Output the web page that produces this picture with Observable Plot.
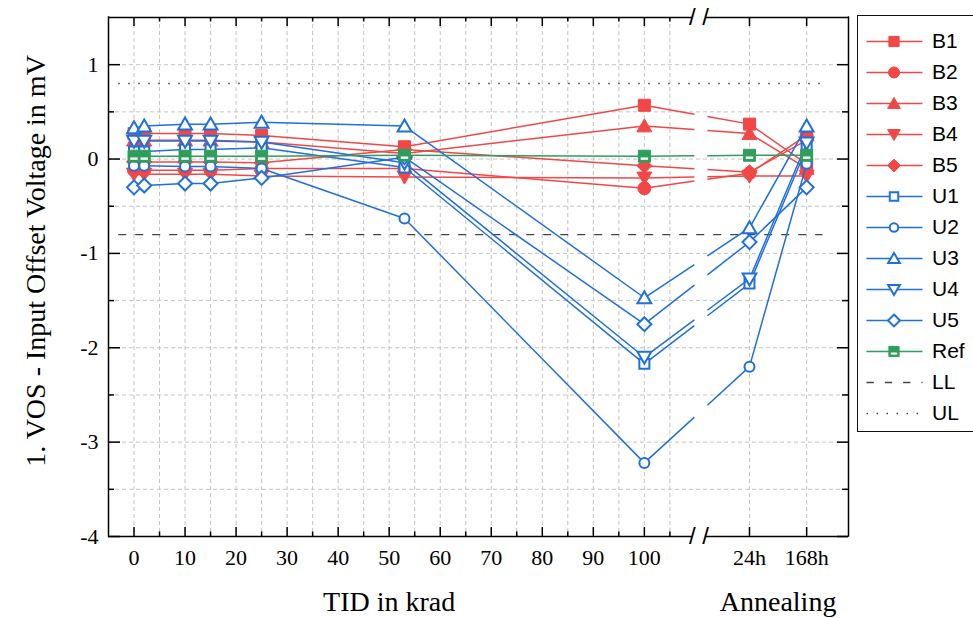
<!DOCTYPE html>
<html><head><meta charset="utf-8">
<script src="https://cdn.jsdelivr.net/npm/d3@7"></script>
<script src="https://cdn.jsdelivr.net/npm/@observablehq/plot@0.6"></script>
<style>
body{margin:0;background:#fff;width:973px;height:618px;overflow:hidden;position:relative}
#chart{position:absolute;left:0;top:0}
#legend{position:absolute;left:857px;top:15px;border:1.5px solid #111;border-right:none;background:#fff;line-height:0}
</style></head><body>
<div id="chart"></div><div id="legend"></div>
<script>
// ---------- data ----------
const steps = ["0", "2", "10", "15", "25", "53", "100", "24h", "168h"];
const doseTicks = [0, 10, 20, 30, 40, 50, 60, 70, 80, 90, 100];
const doseMinorTicks = [5, 15, 25, 35, 45, 55, 65, 75, 85, 95, 105];
const annealLabels = ["24h", "168h"];
const annealAxisPos = [120.6, 131.8];
const yMajorTicks = [-4, -3, -2, -1, 0, 1];
const yMinorTicks = [-3.5, -2.5, -1.5, -0.5, 0.5];
const yGrid = [-3.5, -3, -2.5, -2, -1.5, -1, -0.5, 0, 0.5, 1];
const seriesNames = ["B1", "B2", "B3", "B4", "B5", "U1", "U2", "U3", "U4", "U5", "Ref"];
const limitNames = ["LL", "UL"];
const B1 = [0.27, 0.27, 0.27, 0.27, 0.25, 0.13, 0.57, 0.37, -0.05];
const B2 = [-0.12, -0.12, -0.12, -0.12, -0.10, -0.10, -0.31, -0.15, 0.25];
const B3 = [0.20, 0.20, 0.20, 0.20, 0.18, 0.06, 0.35, 0.27, -0.10];
const B4 = [-0.16, -0.16, -0.16, -0.16, -0.18, -0.19, -0.20, -0.18, -0.18];
const B5 = [-0.03, -0.03, -0.03, -0.03, -0.04, 0.10, -0.07, -0.14, 0.20];
const U1 = [0.08, 0.08, 0.10, 0.10, 0.12, -0.09, -2.17, -1.32, 0.12];
const U2 = [-0.07, -0.07, -0.08, -0.08, -0.10, -0.63, -3.22, -2.20, -0.05];
const U3 = [0.33, 0.35, 0.37, 0.37, 0.39, 0.35, -1.47, -0.73, 0.35];
const U4 = [0.19, 0.19, 0.19, 0.19, 0.18, -0.04, -2.10, -1.27, 0.17];
const U5 = [-0.30, -0.28, -0.26, -0.26, -0.20, 0.02, -1.75, -0.88, -0.30];
const Ref = [0.03, 0.03, 0.03, 0.03, 0.03, 0.04, 0.03, 0.04, 0.04];
const LL = -0.8, UL = 0.8;
const yTitle = "1. VOS - Input Offset Voltage in mV";
const xTitle = "TID in krad";
const annealTitle = "Annealing";

// ---------- layout / scale constants ----------
const W = 855, H = 618, mL = 108, mR = 7, mT = 17, mB = 82;
const frameW = W - mL - mR, frameH = H - mT - mB;
const xMin = -5, xMax = 140, yMin = -4, yMax = 1.5;
const axisBreak = [109.4, 112.0];   // gap in frame line
const lineBreak = [109.8, 112.35];  // gap in series lines
const limitSpan = [-3, 135];

const values = {B1, B2, B3, B4, B5, U1, U2, U3, U4, U5, Ref};
function stepX(s) { const i = annealLabels.indexOf(s); return i >= 0 ? annealAxisPos[i] : +s; }
const rows = seriesNames.flatMap(name => steps.map((s, i) => ({series: name, step: s, x: stepX(s), y: values[name][i]})));
const sx = Plot.scale({x: {domain: [xMin, xMax], range: [mL, W - mR]}});
const sy = Plot.scale({y: {domain: [yMin, yMax], range: [H - mB, mT]}});

// ---------- styles ----------
const red = "#f24747", blue = "#1f6fdd", green = "#2f9e5c";
const styles = {
  B1: {color: red, symbol: "square", filled: true},
  B2: {color: red, symbol: "circle", filled: true},
  B3: {color: red, symbol: "triUp", filled: true},
  B4: {color: red, symbol: "triDown", filled: true},
  B5: {color: red, symbol: "diamond", filled: true},
  U1: {color: blue, symbol: "square", filled: false},
  U2: {color: blue, symbol: "circle", filled: false},
  U3: {color: blue, symbol: "triUp", filled: false},
  U4: {color: blue, symbol: "triDown", filled: false},
  U5: {color: blue, symbol: "diamond", filled: false},
  Ref: {color: green, symbol: "square", filled: true, bar: true}
};
const rFilled = {square: 6, circle: 6.5, triUp: 6.5, triDown: 6.5, diamond: 6};
const rHollow = {square: 5, circle: 5, triUp: 6, triDown: 6, diamond: 5.6};
const rad = s => Math.sqrt(s / Math.PI);
const sym = {
  square: {draw(c, s) { const r = rad(s); c.rect(-r, -r, 2 * r, 2 * r); }},
  circle: {draw(c, s) { const r = rad(s); c.moveTo(r, 0); c.arc(0, 0, r, 0, 2 * Math.PI); }},
  triUp: {draw(c, s) { const r = rad(s); c.moveTo(0, -1.1 * r); c.lineTo(1.15 * r, 0.9 * r); c.lineTo(-1.15 * r, 0.9 * r); c.closePath(); }},
  triDown: {draw(c, s) { const r = rad(s); c.moveTo(0, 1.1 * r); c.lineTo(1.15 * r, -0.9 * r); c.lineTo(-1.15 * r, -0.9 * r); c.closePath(); }},
  diamond: {draw(c, s) { const r = rad(s) * 1.25; c.moveTo(0, -r); c.lineTo(r, 0); c.lineTo(0, r); c.lineTo(-r, 0); c.closePath(); }},
  bar: {draw(c, s) { const r = rad(s); c.rect(-0.62 * r, 0.2 * r, 1.24 * r, 0.4 * r); }}
};
const serif = "'Liberation Serif', 'Times New Roman', serif";
const sans = "'Liberation Sans', Arial, sans-serif";
const gridStyle = {stroke: "#c4c4c4", strokeWidth: 1, strokeDasharray: "4,3"};
const blk = {stroke: "#000", strokeWidth: 1.5};

function markerMarks(data, name, scale, xo, yo) {
  const st = styles[name];
  const r = (st.filled ? rFilled : rHollow)[st.symbol] * scale;
  const out = [Plot.dot(data, {x: xo, y: yo, symbol: sym[st.symbol], r,
    fill: st.filled ? st.color : "white", stroke: st.color, strokeWidth: st.filled ? 1 : 2})];
  if (st.bar) out.push(Plot.dot(data, {x: xo, y: yo, symbol: sym.bar, r, fill: "white", stroke: "none"}));
  return out;
}

// line through the series, interrupted where the x axis is broken
function lineMarks(data, color) {
  const before = data.filter(d => d.x < lineBreak[0]);
  const after = data.filter(d => d.x > lineBreak[1]);
  const a = before[before.length - 1], b = after[0];
  const px1 = sx.apply(a.x), py1 = sy.apply(a.y), px2 = sx.apply(b.x), py2 = sy.apply(b.y);
  const L = Math.hypot(px2 - px1, py2 - py1);
  const t0 = (sx.apply(lineBreak[0]) - px1) / (px2 - px1), t1 = (sx.apply(lineBreak[1]) - px1) / (px2 - px1);
  const dash = `${(t0 * L).toFixed(2)},${((t1 - t0) * L).toFixed(2)},${(L + 20).toFixed(2)}`;
  const opt = {x: "x", y: "y", stroke: color, strokeWidth: 1.5};
  return [
    Plot.line(before, opt),
    Plot.line(after, opt),
    Plot.link([{a, b}], {x1: d => d.a.x, y1: d => d.a.y, x2: d => d.b.x, y2: d => d.b.y, stroke: color, strokeWidth: 1.5, strokeDasharray: dash})
  ];
}

// ---------- main chart ----------
const xGrid = [...doseTicks, ...doseMinorTicks, ...annealAxisPos];
const xMajor = [...doseTicks, ...annealAxisPos];
const fmtX = d => { const i = annealAxisPos.indexOf(d); return i >= 0 ? annealLabels[i] : String(d); };

const marks = [
  Plot.ruleX(xGrid, gridStyle),
  Plot.ruleY(yGrid, gridStyle),
  Plot.ruleY([LL], {x1: limitSpan[0], x2: limitSpan[1], stroke: "#444", strokeWidth: 1.3, strokeDasharray: "8,9"}),
  Plot.ruleY([UL], {x1: limitSpan[0], x2: limitSpan[1], stroke: "#444", strokeWidth: 1.5, strokeDasharray: "1.5,8.5"})
];
for (const name of seriesNames) {
  const data = rows.filter(d => d.series === name);
  marks.push(...lineMarks(data, styles[name].color));
  marks.push(...markerMarks(data, name, 1, "x", "y"));
}
marks.push(
  // frame
  Plot.ruleX([xMin, xMax], {...blk, strokeLinecap: "square"}),
  Plot.ruleY([yMin, yMax], {x1: xMin, x2: axisBreak[0], ...blk}),
  Plot.ruleY([yMin, yMax], {x1: axisBreak[1], x2: xMax, ...blk}),
  Plot.text([yMin, yMax], {x: (axisBreak[0] + axisBreak[1]) / 2, y: d => d, text: () => "/ /", fontFamily: sans, fontSize: 24, fill: "#000"}),
  // inward ticks
  Plot.tickY(yMajorTicks, {y: d => d, insetRight: frameW - 12, ...blk}),
  Plot.tickY(yMinorTicks, {y: d => d, insetRight: frameW - 6, ...blk}),
  Plot.tickY(yMajorTicks, {y: d => d, insetLeft: frameW - 11, ...blk}),
  Plot.tickY(yMinorTicks, {y: d => d, insetLeft: frameW - 6, ...blk}),
  Plot.tickX(xMajor, {x: d => d, insetTop: frameH - 9, ...blk}),
  Plot.tickX(doseMinorTicks, {x: d => d, insetTop: frameH - 4.5, ...blk}),
  Plot.tickX(xMajor, {x: d => d, insetBottom: frameH - 9, ...blk}),
  Plot.tickX(doseMinorTicks, {x: d => d, insetBottom: frameH - 4.5, ...blk}),
  // axes labels
  Plot.axisY({ticks: yMajorTicks, tickSize: 0, tickPadding: 10, tickFormat: d => String(d), fontSize: 22, label: null}),
  Plot.axisX({ticks: xMajor, tickSize: 0, tickPadding: 13, tickFormat: fmtX, fontSize: 22, label: null}),
  Plot.text([xTitle], {x: (doseTicks[0] + doseTicks[doseTicks.length - 1]) / 2, frameAnchor: "bottom", lineAnchor: "top", dy: 55, text: d => d, fontSize: 28, fill: "#000"}),
  Plot.text([annealTitle], {x: (annealAxisPos[0] + annealAxisPos[1]) / 2, frameAnchor: "bottom", lineAnchor: "top", dy: 55, text: d => d, fontSize: 28, fill: "#000"}),
  Plot.text([yTitle], {frameAnchor: "left", textAnchor: "middle", rotate: -90, dx: -72, dy: -16, text: d => d, fontSize: 28, fill: "#000"})
);

const chart = Plot.plot({
  width: W, height: H, marginLeft: mL, marginRight: mR, marginTop: mT, marginBottom: mB,
  x: {domain: [xMin, xMax], axis: null},
  y: {domain: [yMin, yMax], axis: null},
  style: {fontFamily: serif, fontSize: "22px", color: "#000", background: "#fff", overflow: "visible"},
  marks
});
document.getElementById("chart").append(chart);

// ---------- legend ----------
const legendNames = [...seriesNames, ...limitNames];
const LW = 115, LH = 415;
const lx = [8.5, 35.5, 64.5, 73.5]; // line start, marker, line end, text
const lmarks = [];
for (const name of seriesNames) {
  lmarks.push(Plot.ruleY([name], {y: d => d, x1: lx[0], x2: lx[2], stroke: styles[name].color, strokeWidth: 1.5}));
  lmarks.push(...markerMarks([name], name, 0.85, () => lx[1], d => d));
}
lmarks.push(
  Plot.ruleY(["LL"], {y: d => d, x1: lx[0], x2: lx[2], stroke: "#444", strokeWidth: 1.3, strokeDasharray: "7.3,11"}),
  Plot.ruleY(["UL"], {y: d => d, x1: lx[0], x2: lx[2], stroke: "#444", strokeWidth: 1.5, strokeDasharray: "1.5,8.5"}),
  Plot.text(legendNames, {y: d => d, x: lx[3], text: d => d, textAnchor: "start", fontSize: 21, fill: "#000"})
);
const legend = Plot.plot({
  width: LW, height: LH, margin: 0,
  x: {domain: [0, LW], range: [0, LW], axis: null},
  y: {type: "point", domain: legendNames, range: [23.5, 23.5 + 12 * 31.25], padding: 0, axis: null},
  style: {fontFamily: sans, background: "#fff", overflow: "visible"},
  marks: lmarks
});
document.getElementById("legend").append(legend);
</script>
</body></html>
